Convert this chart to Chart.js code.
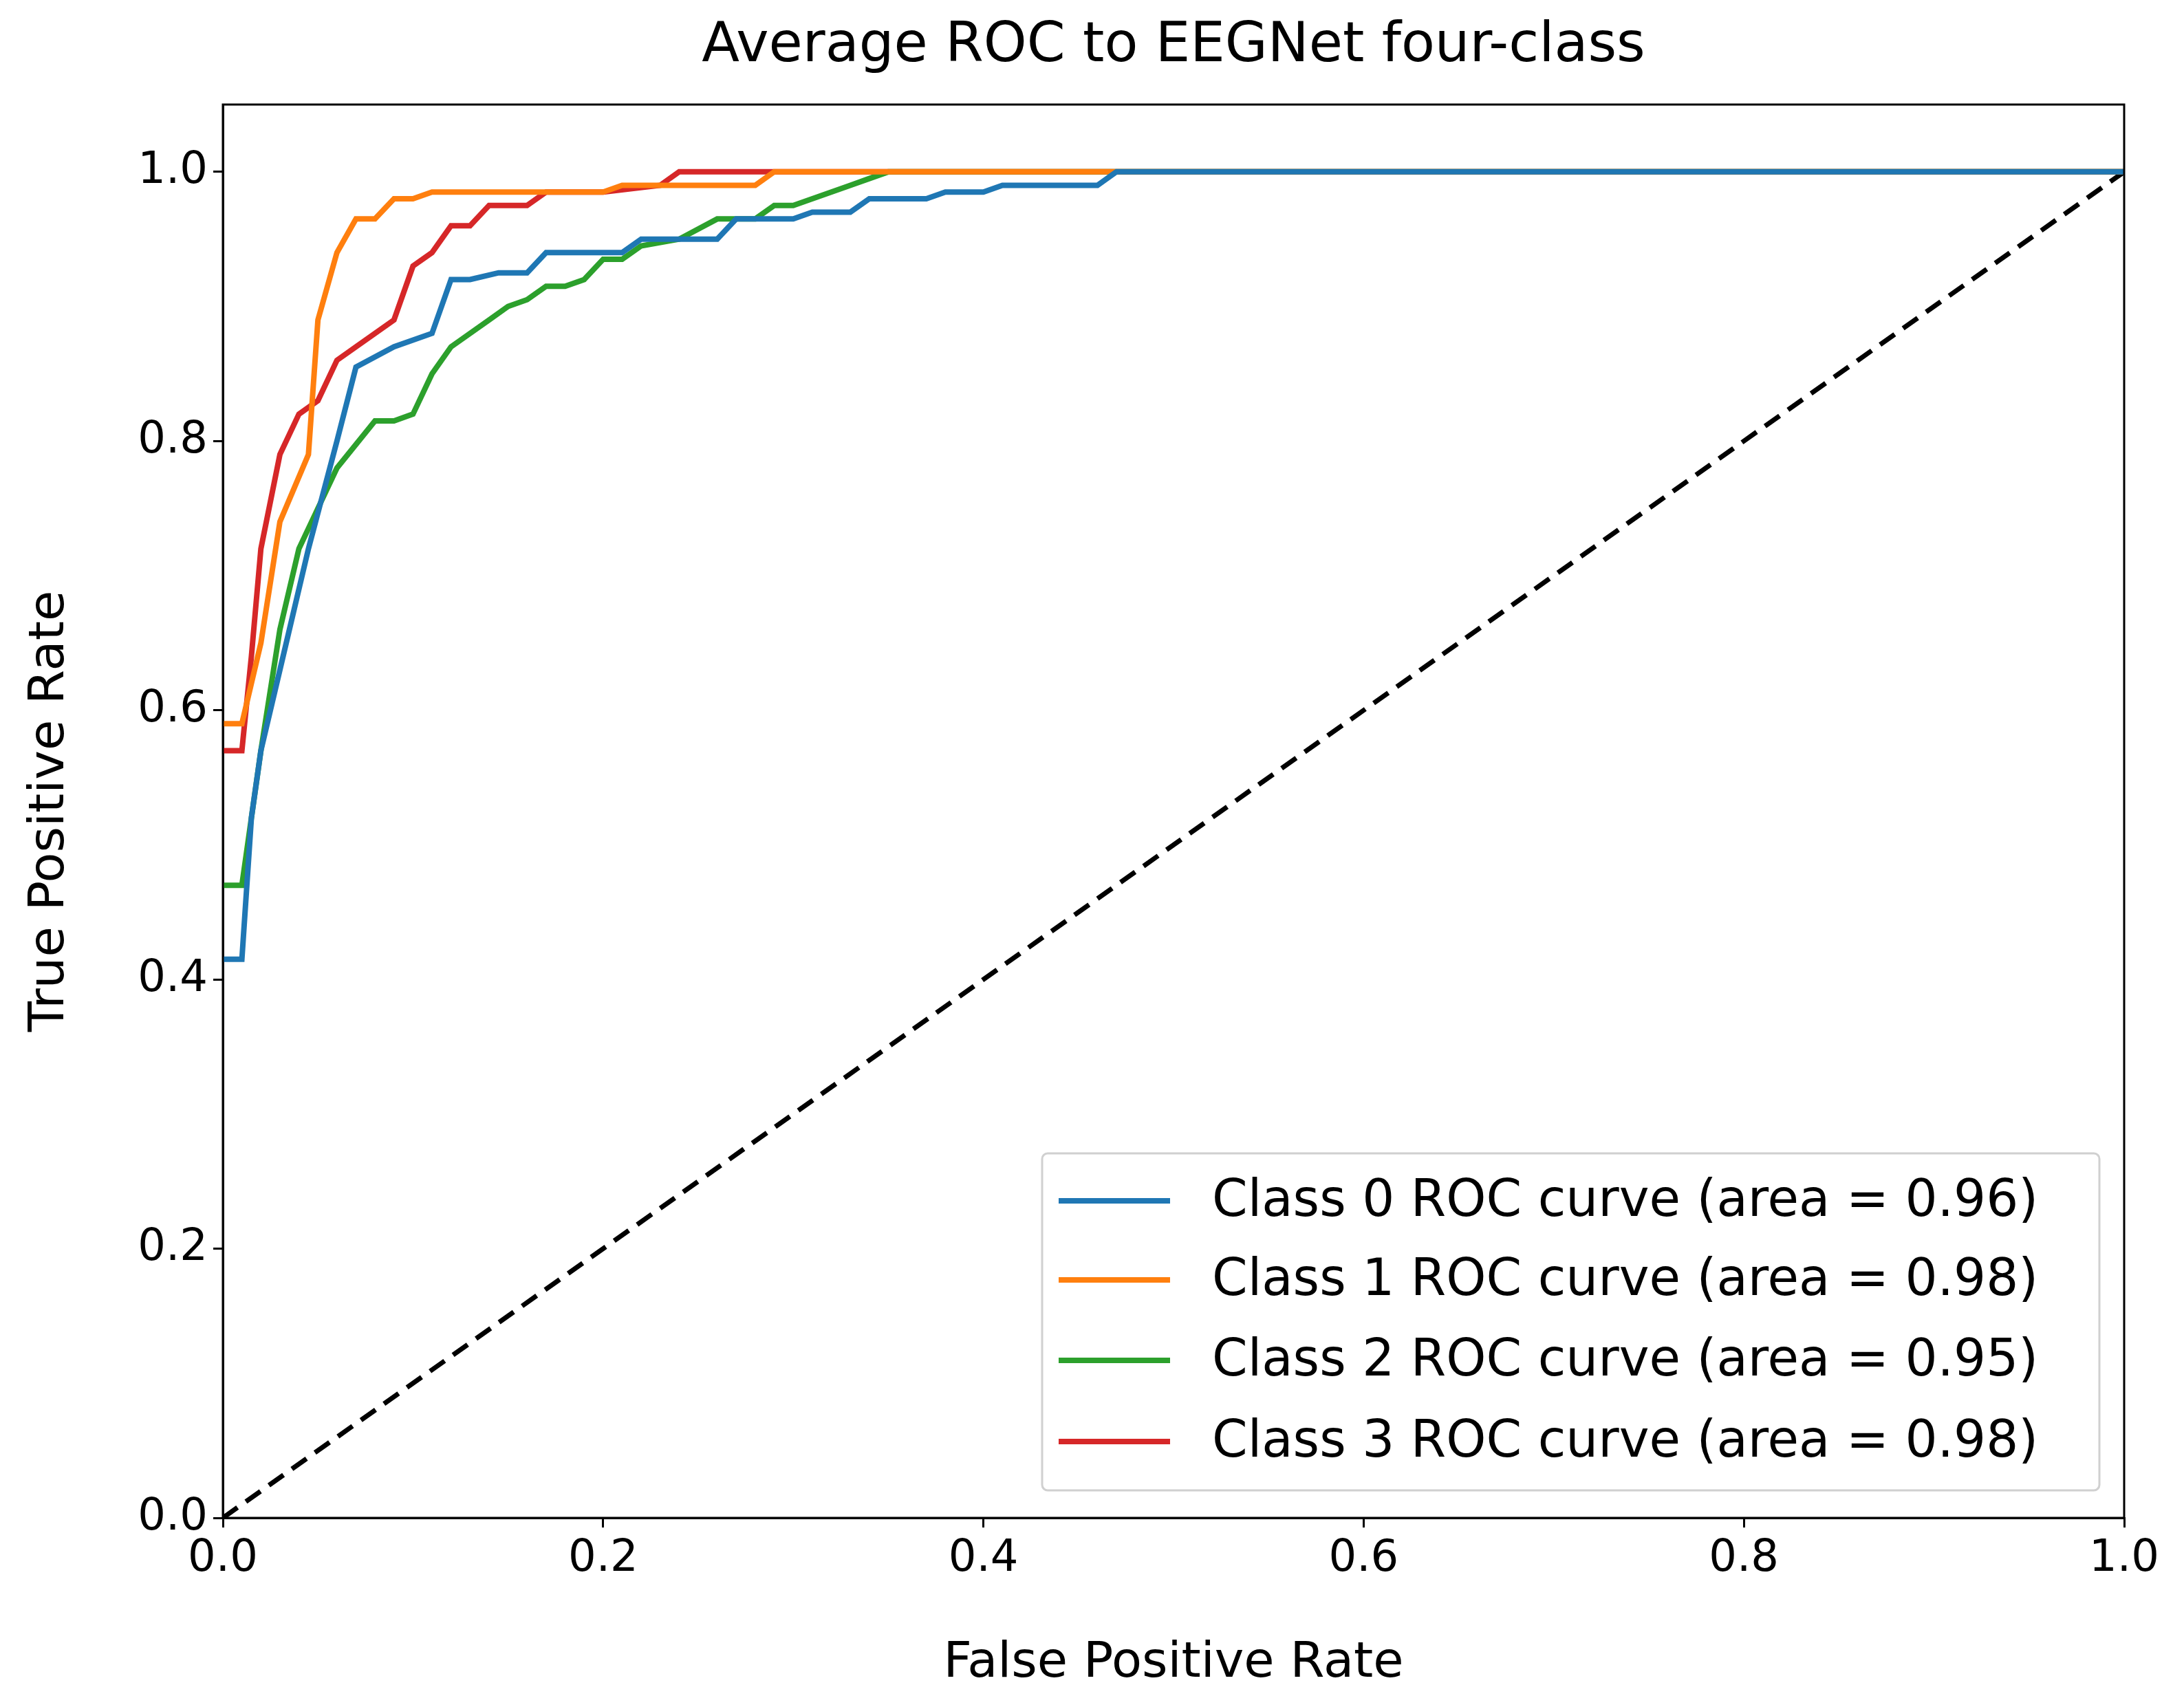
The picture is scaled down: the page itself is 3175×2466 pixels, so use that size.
<!DOCTYPE html>
<html><head><meta charset="utf-8">
<script src="https://cdn.jsdelivr.net/npm/chart.js@4"></script>
<style>html,body{margin:0;padding:0;background:#fff}</style>
</head><body>
<canvas id="c" width="3175" height="2466"></canvas>
<script>
const fpr0=[0,0.01,0.015,0.02,0.03,0.045,0.06,0.07,0.09,0.11,0.12,0.13,0.145,0.16,0.17,0.21,0.22,0.26,0.27,0.3,0.31,0.33,0.34,0.37,0.38,0.4,0.41,0.46,0.47,1];
const tpr0=[0.415,0.415,0.52,0.57,0.63,0.72,0.80,0.855,0.87,0.88,0.92,0.92,0.925,0.925,0.94,0.94,0.95,0.95,0.965,0.965,0.97,0.97,0.98,0.98,0.985,0.985,0.99,0.99,1,1];
const fpr1=[0,0.01,0.015,0.02,0.03,0.045,0.05,0.06,0.07,0.08,0.09,0.1,0.11,0.2,0.21,0.28,0.29,1];
const tpr1=[0.59,0.59,0.62,0.65,0.74,0.79,0.89,0.94,0.965,0.965,0.98,0.98,0.985,0.985,0.99,0.99,1,1];
const fpr2=[0,0.01,0.015,0.02,0.03,0.04,0.05,0.06,0.08,0.09,0.1,0.11,0.12,0.14,0.15,0.16,0.17,0.18,0.19,0.2,0.21,0.22,0.24,0.26,0.28,0.29,0.3,0.31,0.32,0.33,0.34,0.35,1];
const tpr2=[0.47,0.47,0.52,0.57,0.66,0.72,0.75,0.78,0.815,0.815,0.82,0.85,0.87,0.89,0.90,0.905,0.915,0.915,0.92,0.935,0.935,0.945,0.95,0.965,0.965,0.975,0.975,0.98,0.985,0.99,0.995,1,1];
const fpr3=[0,0.01,0.015,0.02,0.03,0.04,0.05,0.06,0.07,0.08,0.09,0.1,0.11,0.12,0.13,0.14,0.16,0.17,0.2,0.23,0.24,1];
const tpr3=[0.57,0.57,0.64,0.72,0.79,0.82,0.83,0.86,0.87,0.88,0.89,0.93,0.94,0.96,0.96,0.975,0.975,0.985,0.985,0.99,1,1];
const labels=['Class 0 ROC curve (area = 0.96)','Class 1 ROC curve (area = 0.98)','Class 2 ROC curve (area = 0.95)','Class 3 ROC curve (area = 0.98)'];
const colors=['#1f77b4','#ff7f0e','#2ca02c','#d62728'];
const diagX=[0,1], diagY=[0,1];
const xTicks=[0,0.2,0.4,0.6,0.8,1.0], yTicks=[0,0.2,0.4,0.6,0.8,1.0];
const FONT='"DejaVu Sans"';
const pts=(xs,ys)=>xs.map((x,i)=>({x:x,y:ys[i]}));
const series=[[fpr0,tpr0],[fpr1,tpr1],[fpr2,tpr2],[fpr3,tpr3]];
const datasets=series.map((s,i)=>({label:labels[i],data:pts(s[0],s[1]),borderColor:colors[i],borderWidth:8,pointRadius:0,tension:0,fill:false}));
datasets.push({label:'diag',data:pts(diagX,diagY),borderColor:'#000',borderWidth:7,borderDash:[26,15],pointRadius:0});
const deco={id:'deco',afterDraw(ch){
  const c=ch.ctx,a=ch.chartArea;
  c.save();
  c.strokeStyle='#000';c.lineWidth=3;c.strokeRect(a.left,a.top,a.right-a.left,a.bottom-a.top);
  c.fillStyle='#000';c.font='80px '+FONT;c.textAlign='center';c.textBaseline='middle';
  c.fillText('Average ROC to EEGNet four-class',(a.left+a.right)/2,68);
  const lx=1515,ly=1677,lw=1537,lh=490;
  c.fillStyle='rgba(255,255,255,0.85)';c.strokeStyle='#d0d0d0';c.lineWidth=3;
  c.beginPath();c.roundRect(lx,ly,lw,lh,8);c.fill();c.stroke();
  c.font='74px '+FONT;c.textAlign='left';
  const rows=[1746,1861,1978,2096];
  labels.forEach((l,i)=>{c.strokeStyle=colors[i];c.lineWidth=8;c.beginPath();c.moveTo(1539,rows[i]);c.lineTo(1701,rows[i]);c.stroke();
    c.fillStyle='#000';c.fillText(l,1762,rows[i]+3);});
  c.restore();
}};
new Chart(document.getElementById('c'),{type:'line',data:{datasets},
 options:{responsive:false,devicePixelRatio:1,animation:false,
  layout:{padding:{top:152,right:87,left:0,bottom:0}},
  plugins:{legend:{display:false},tooltip:{enabled:false}},
  scales:{
   x:{type:'linear',min:0,max:1,afterFit(s){s.height=259;},
     afterBuildTicks(s){s.ticks=xTicks.map(v=>({value:v}));},
     ticks:{color:'#000',font:{family:FONT,size:64},padding:8,maxRotation:0,callback:v=>v.toFixed(1)},
     grid:{display:true,drawOnChartArea:false,drawTicks:true,tickLength:14,color:'#000',lineWidth:3},
     border:{display:true,color:'#000',width:3},
     title:{display:true,text:'False Positive Rate',color:'#000',font:{family:FONT,size:72},padding:{top:0}}},
   y:{type:'linear',min:0,max:1.05,afterFit(s){s.width=324;},
     afterBuildTicks(s){s.ticks=yTicks.map(v=>({value:v}));},
     ticks:{color:'#000',font:{family:FONT,size:64},padding:8,callback:v=>v.toFixed(1)},
     grid:{display:true,drawOnChartArea:false,drawTicks:true,tickLength:14,color:'#000',lineWidth:3},
     border:{display:true,color:'#000',width:3},
     title:{display:true,text:'True Positive Rate',color:'#000',font:{family:FONT,size:72},padding:{top:30,bottom:0}}}
  }},plugins:[deco]});
</script></body></html>
